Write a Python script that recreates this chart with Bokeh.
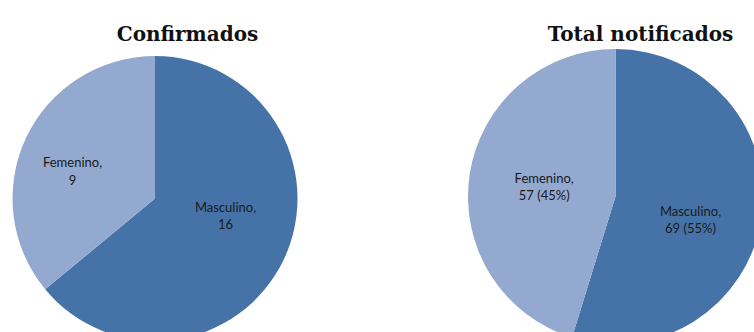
import math
from bokeh.plotting import figure
from bokeh.models import Range1d, ColumnDataSource
from bokeh.core.properties import value
from bokeh.embed import file_html
from bokeh.resources import INLINE

# ---- data ----
categories = ["Masculino", "Femenino"]
confirmados = [16, 9]
notificados = [69, 57]
titles = ["Confirmados", "Total notificados"]
colors = ["#4673A7", "#94A9CF"]

W, H = 754, 332
p = figure(width=W, height=H, output_backend="svg", toolbar_location=None,
           x_range=Range1d(0, W), y_range=Range1d(0, H), min_border=0)
p.axis.visible = False
p.grid.visible = False
p.outline_line_color = None
p.background_fill_color = "white"

def Y(py):
    return H - py

# layout constants (pixel positions in the reference)
pies = [
    dict(vals=confirmados, cx=154.5, cy=198, r=142.5, title=titles[0], tx=187,
         pct=False, label_pos=[(225, 215), (72, 170.5)]),
    dict(vals=notificados, cx=615, cy=196, r=147.5, title=titles[1], tx=640,
         pct=True, label_pos=[(690, 219), (543.7, 186)]),
]

for pie in pies:
    vals = pie["vals"]
    total = sum(vals)
    starts, ends, labels = [], [], []
    acc = 0.0
    for v in vals:
        s = math.pi / 2 - 2 * math.pi * acc / total
        acc += v
        e = math.pi / 2 - 2 * math.pi * acc / total
        starts.append(s)
        ends.append(e)
    for c, v in zip(categories, vals):
        if pie["pct"]:
            labels.append(f"{c},\n{v} ({round(100 * v / total)}%)")
        else:
            labels.append(f"{c},\n{v}")
    src = ColumnDataSource(dict(
        x=[pie["cx"]] * len(vals), y=[Y(pie["cy"])] * len(vals),
        start=starts, end=ends, color=colors,
        lx=[lp[0] for lp in pie["label_pos"]],
        ly=[Y(lp[1]) for lp in pie["label_pos"]],
        label=labels))
    p.wedge(x="x", y="y", radius=pie["r"], start_angle="start", end_angle="end",
            direction="clock", fill_color="color", line_color=None, source=src)
    p.text(x="lx", y="ly", text="label", source=src, text_align="center",
           text_baseline="middle", text_font=value("Lato"), text_font_size="13px",
           text_color="#1a1a1a", text_line_height=1.12)
    p.text(x=[pie["tx"]], y=[Y(33)], text=[pie["title"]], text_align="center",
           text_baseline="alphabetic", text_font=value("DejaVu Serif"),
           text_font_style="bold", text_font_size="20px", text_color="#111111")

open("out.html", "w").write(file_html(p, INLINE))
